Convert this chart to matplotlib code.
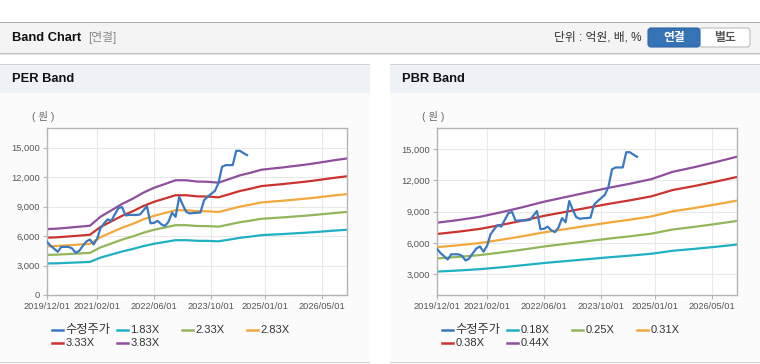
import numpy as np
import pandas as pd
import matplotlib
matplotlib.use('Agg')
import matplotlib.pyplot as plt
from matplotlib.patches import Rectangle, FancyBboxPatch
from matplotlib.lines import Line2D
from matplotlib.transforms import IdentityTransform

plt.rcParams['font.family'] = ['Liberation Sans', 'Noto Sans CJK KR']

# data
price_start = '2019-12-01'
price = [5420, 5000, 4700, 4400, 4900, 4900, 4900, 4750, 4300, 4500,
         5000, 5450, 5650, 5150, 5750, 6800, 7300, 7700, 7550, 8200,
         8850, 8950, 8100, 8150, 8150, 8150, 8200, 8600, 9050, 7300,
         7350, 7550, 7200, 7020, 7450, 8370, 7960, 10000, 9150, 8470,
         8300, 8350, 8370, 8400, 9660, 10000, 10300, 10600, 11360, 13050,
         13220, 13220, 13220, 14680, 14680, 14450, 14240]

# months after 2019/12 and per-share values behind the bands
eps_months = [0, 3, 6, 9, 12, 15, 18, 21, 24, 27, 30, 33, 36, 39, 42,
              45, 48, 51, 54, 57, 60, 63, 66, 69, 72, 75, 78, 81, 84]
eps = [1752, 1765, 1790, 1815, 1841, 2080, 2250, 2420, 2560, 2720, 2850,
       2950, 3050, 3050, 3015, 3010, 2985, 3080, 3180, 3250, 3330, 3360,
       3390, 3426, 3460, 3500, 3545, 3590, 3629]
bps_months = [0, 6, 12, 18, 24, 30, 36, 42, 48, 54, 60, 66, 72, 78, 84]
bps = [18016, 18600, 19300, 20300, 21400, 22590, 23600, 24600, 25600,
       26500, 27500, 29100, 30100, 31200, 32390]

per_mult = [1.83, 2.33, 2.83, 3.33, 3.83]
pbr_mult = [0.18, 0.25, 0.31, 0.38, 0.44]
per_labels = ['1.83X', '2.33X', '2.83X', '3.33X', '3.83X']
pbr_labels = ['0.18X', '0.25X', '0.31X', '0.38X', '0.44X']
price_label = '수정주가'

xtick_labels = ['2019/12/01', '2021/02/01', '2022/06/01',
                '2023/10/01', '2025/01/01', '2026/05/01']
x_end = '2026-12-01'

price_color = '#3b78c2'
band_colors = ['#1fb0c4', '#92b659', '#f2a83b', '#cc3330', '#8e4f9d']

W, H = 760, 364
fig = plt.figure(figsize=(W / 100, H / 100), dpi=100)
fig.patch.set_facecolor('white')
px = IdentityTransform()


def rect(x, y, w, h, **kw):
    fig.add_artist(Rectangle((x, H - y - h), w, h, transform=px, zorder=-5, **kw))


def text(x, y, s, **kw):
    fig.text(x / W, 1 - y / H, s, va='center', **kw)


# top header bar
rect(0, 22, W, 31, fc='#f4f4f4', lw=0)
rect(0, 21.5, W, 1.5, fc='#acacac', lw=0)
rect(0, 52.5, W, 1.2, fc='#c2c2c2', lw=0)
rect(0, 53.7, W, 1.5, fc='#e6e6e6', lw=0)
text(12, 38, 'Band Chart', fontsize=9.3, fontweight='bold', color='#111111')
text(88, 38, '[연결]', fontsize=8.5, color='#8a8a8a')
text(642, 38, '단위 : 억원, 배, %', fontsize=8.5, color='#333333', ha='right')
fig.add_artist(FancyBboxPatch((699, H - 47), 51, 19, boxstyle='round,pad=0,rounding_size=3',
                              transform=px, fc='white', ec='#bdbdbd', lw=0.8))
fig.add_artist(FancyBboxPatch((648, H - 47), 52, 19, boxstyle='round,pad=0,rounding_size=3',
                              transform=px, fc='#3672b6', ec='#2f64a3', lw=0.8))
text(674, 38, '연결', fontsize=8.5, fontweight='bold', color='white', ha='center')
text(724.5, 38, '별도', fontsize=8.5, fontweight='bold', color='#555555', ha='center')

tick_dates = pd.to_datetime([s.replace('/', '-') for s in xtick_labels])
dates = pd.date_range(price_start, periods=len(price), freq='MS')
eps_dates = [pd.Timestamp(price_start) + pd.DateOffset(months=m) for m in eps_months]
bps_dates = [pd.Timestamp(price_start) + pd.DateOffset(months=m) for m in bps_months]


def panel(x0, title, knot_dates, base, mults, labels, ylim, yticks):
    rect(x0, 64, 370, 29, fc='#eef1f6', lw=0)
    rect(x0, 63.5, 370, 1.2, fc='#d2d2d2', lw=0)
    rect(x0, 93, 370, 269, fc='#fbfbfb', lw=0)
    rect(x0, 361.8, 370, 1.4, fc='#d0d0d0', lw=0)
    text(x0 + 12, 79, title, fontsize=9.3, fontweight='bold', color='#111111')
    text(x0 + 32, 117, '( 원 )', fontsize=7.5, color='#666666')

    left = x0 + 47
    ax = fig.add_axes([left / W, 1 - 295 / H, 300 / W, 167 / H])
    ax.set_facecolor('white')
    base = np.array(base, dtype=float)
    for m, c in zip(mults, band_colors):
        ax.plot(knot_dates, base * m, color=c, lw=1.6)
    ax.plot(dates, price, color=price_color, lw=1.6, zorder=5)
    ax.set_xlim(pd.Timestamp(price_start), pd.Timestamp(x_end))
    ax.set_ylim(*ylim)
    ax.set_yticks(yticks)
    ax.set_yticklabels(['{:,}'.format(v) for v in yticks])
    ax.set_xticks(tick_dates)
    ax.set_xticklabels(xtick_labels)
    ax.grid(color='#e9e9e9', lw=0.8)
    ax.set_axisbelow(True)
    for s in ax.spines.values():
        s.set_color('#b4b4b4')
        s.set_linewidth(1.0)
    ax.tick_params(length=3, width=0.8, color='#b4b4b4', labelsize=6.7,
                   labelcolor='#555555', pad=2)

    # legend, two rows of four slots
    entries = [(price_label, price_color)] + list(zip(labels, band_colors))
    for i, (lab, c) in enumerate(entries):
        lx = left + 5 + (i % 4) * 65
        ly = H - (330 + (i // 4) * 13)
        fig.add_artist(Line2D([lx, lx + 11], [ly, ly], color=c, lw=1.8, transform=px))
        size = 8.8 if i == 0 else 8
        fig.text((lx + 13.5) / W, ly / H, lab, fontsize=size, color='#333333', va='center')
    return ax


panel(0, 'PER Band', eps_dates, eps, per_mult, per_labels,
      (0, 17000), [0, 3000, 6000, 9000, 12000, 15000])
panel(390, 'PBR Band', bps_dates, bps, pbr_mult, pbr_labels,
      (1000, 17000), [3000, 6000, 9000, 12000, 15000])

fig.savefig('out.png', dpi=100)
